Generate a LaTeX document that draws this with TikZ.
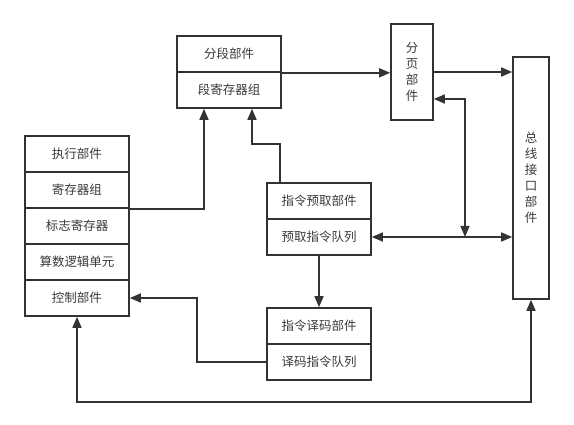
\documentclass[tikz,border=0pt]{standalone}
\usepackage{fontspec}
\setmainfont{Noto Sans CJK SC}
\usetikzlibrary{arrows.meta}
\definecolor{ln}{HTML}{333333}
\definecolor{tx}{HTML}{3A3A3A}
\begin{document}
\begin{tikzpicture}[x=1pt,y=-1pt,
  cell/.style={draw=ln,line width=1.6pt,minimum width=104pt,minimum height=36pt,inner sep=0pt,
    text=tx,font=\fontsize{12.5}{14}\selectfont},
  tall/.style={draw=ln,line width=1.6pt,inner sep=0pt,text=tx,align=center,
    font=\fontsize{12.5}{16}\selectfont},
  conn/.style={draw=ln,line width=1.5pt,-{Triangle[length=11pt,width=9pt]}},
  conn2/.style={draw=ln,line width=1.5pt,{Triangle[length=11pt,width=9pt]}-{Triangle[length=11pt,width=9pt]}}]
\useasboundingbox (0,0) rectangle (574,425);
% segmentation unit
\node[cell] (seg1) at (229,54) {分段部件};
\node[cell] (seg2) at (229,90) {段寄存器组};
% execution unit stack
\node[cell] (l1) at (77,154) {执行部件};
\node[cell] (l2) at (77,190) {寄存器组};
\node[cell] (l3) at (77,226) {标志寄存器};
\node[cell] (l4) at (77,262) {算数逻辑单元};
\node[cell] (l5) at (77,298) {控制部件};
% fetch unit
\node[cell] (f1) at (319,201) {指令预取部件};
\node[cell] (f2) at (319,237) {预取指令队列};
% decode unit
\node[cell] (d1) at (319,326) {指令译码部件};
\node[cell] (d2) at (319,362) {译码指令队列};
% paging unit
\node[tall,minimum width=42pt,minimum height=96pt] (page) at (412,72) {分\\页\\部\\件};
% bus interface
\node[tall,minimum width=36pt,minimum height=242pt] (bus) at (531,178) {总\\线\\接\\口\\部\\件};
% connectors
\draw[conn] (seg1.south east) -- (seg1.south east -| page.west);
\draw[conn] (page.east) -- (page.east -| bus.west);
\coordinate (pj) at (465,99);
\coordinate (bj) at (465,237);
\draw[conn2] (pj -| page.east) -- (pj) -- (bj);
\draw[conn2] (f2.east) -- (f2.east -| bus.west);
\draw[conn] (f2.south) -- (d1.north);
\draw[conn] (d2.west) -- ++(-69,0) |- (l5.east);
\draw[conn2] (l5.south) -- ++(0,85) -| (bus.south);
\draw[conn] (l2.south east) -| ([xshift=-25pt]seg2.south);
\draw[conn] ([xshift=-39pt]f1.north) -- ++(0,-38) -| ([xshift=23pt]seg2.south);
\end{tikzpicture}
\end{document}
